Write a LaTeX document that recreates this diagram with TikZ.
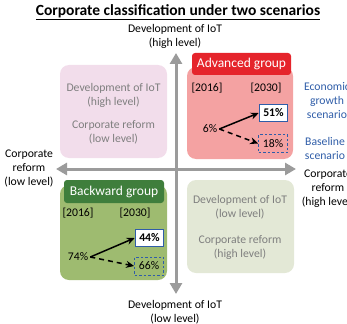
\documentclass[tikz,border=0pt]{standalone}
\usepackage{fontspec}
\setmainfont{Carlito}
\usetikzlibrary{arrows.meta}
\definecolor{axisgray}{HTML}{9B9B9B}
\definecolor{txtgray}{HTML}{7F7F7F}
\definecolor{scenblue}{HTML}{2F5DA8}
\definecolor{pinkbox}{HTML}{F2DDEB}
\definecolor{redbody}{HTML}{F4A2A2}
\definecolor{redhead}{HTML}{E5242B}
\definecolor{greenbody}{HTML}{9EBB70}
\definecolor{greenhead}{HTML}{3F7E3C}
\definecolor{palebox}{HTML}{E3E8D6}
\tikzset{
  axis/.style={draw=axisgray, line width=3pt, -{Triangle[length=11pt,width=12pt]}},
  quad/.style={rounded corners=9pt, draw=none},
  header/.style={rounded corners=3pt, text=white, font=\fontsize{13.5}{15}\selectfont,
    anchor=center, inner sep=0pt},
  lbl/.style={font=\fontsize{11.7}{14}\selectfont, align=center},
  graytxt/.style={lbl, text=txtgray},
  bluetxt/.style={lbl, text=scenblue},
  pct/.style={font=\fontsize{11.7}{13}\selectfont, inner sep=0pt},
  growthbox/.style={draw=scenblue, line width=1.6pt, fill=white, minimum width=28pt,
    minimum height=17pt, inner sep=0pt, font=\fontsize{11.7}{13}\selectfont\bfseries},
  basebox/.style={draw=scenblue, dash pattern=on 2.5pt off 2pt, line width=0.8pt,
    minimum width=29pt, minimum height=18pt, inner sep=0pt,
    font=\fontsize{11.7}{13}\selectfont},
  trend/.style={line width=1.5pt, -{Stealth[length=8pt,width=7pt]}},
  basetrend/.style={trend, dash pattern=on 5pt off 4pt},
}
\begin{document}
\begin{tikzpicture}[x=1pt,y=-1pt]
\useasboundingbox (0,0) rectangle (347,323);
\clip (0,0) rectangle (347,323);

% title
\node[font=\fontsize{15.5}{17}\selectfont\bfseries] (title) at (178,12)
  {\underline{Corporate classification under two scenarios}};

% axis labels
\node[lbl] (ytop) at (175,36) {Development of IoT\\(high level)};
\node[lbl] (ybot) at (175,312) {Development of IoT\\(low level)};
\node[lbl] (xleft) at (29,169) {Corporate\\reform\\(low level)};
\node[lbl] (xright) at (328,189) {Corporate\\reform\\(high level)};

% quadrant panels
\fill[quad, pinkbox] (60,65) rectangle (167,158);
\fill[quad, redbody] (187,67) rectangle (293,159);
\fill[quad, greenbody] (60,185) rectangle (167,280);
\fill[quad, palebox] (187,180) rectangle (294,273);

% axes
\coordinate (origin) at (176,169);
\coordinate (up) at (176,53);
\coordinate (down) at (176,294);
\coordinate (left) at (56,169);
\coordinate (right) at (296,169);
\draw[axis] (origin) -- (up);
\draw[axis] (origin) -- (down);
\draw[axis] (origin) -- (left);
\draw[axis] (origin) -- (right);

% top-left panel text
\node[graytxt] (tlA) at (113.5,95) {Development of IoT\\(high level)};
\node[graytxt] (tlB) at (113.5,132) {Corporate reform\\(low level)};

% bottom-right panel text
\node[graytxt] (brA) at (240,207) {Development of IoT\\(low level)};
\node[graytxt] (brB) at (240,247) {Corporate reform\\(high level)};

% advanced group
\node[header, fill=redhead, minimum width=99pt, minimum height=22pt] (adv) at (241.5,64) {Advanced group};
\node[lbl] (a16) at (207,88) {[2016]};
\node[lbl] (a30) at (266,88) {[2030]};
\node[pct] (a6) at (210,129) {6\%};
\node[growthbox] (a51) at (273.5,113) {51\%};
\node[basebox] (a18) at (273,143.5) {18\%};
\draw[trend] ([xshift=2pt]a6.east) -- (a51.west);
\draw[basetrend] ([xshift=2pt]a6.east) -- (a18.west);

% scenario legend
\node[bluetxt] (econ) at (327,101) {Economic\\growth\\scenario};
\node[bluetxt] (base) at (325,148.5) {Baseline\\scenario};

% backward group
\node[header, fill=greenhead, minimum width=100pt, minimum height=23pt] (bwd) at (114,191.5) {Backward group};
\node[lbl] (b16) at (78,213) {[2016]};
\node[lbl] (b30) at (135,213) {[2030]};
\node[pct] (b74) at (78,257) {74\%};
\node[growthbox] (b44) at (149.5,238) {44\%};
\node[basebox] (b66) at (149,266) {66\%};
\draw[trend] ([xshift=2pt]b74.east) -- (b44.west);
\draw[basetrend] ([xshift=2pt]b74.east) -- (b66.west);
\end{tikzpicture}
\end{document}
